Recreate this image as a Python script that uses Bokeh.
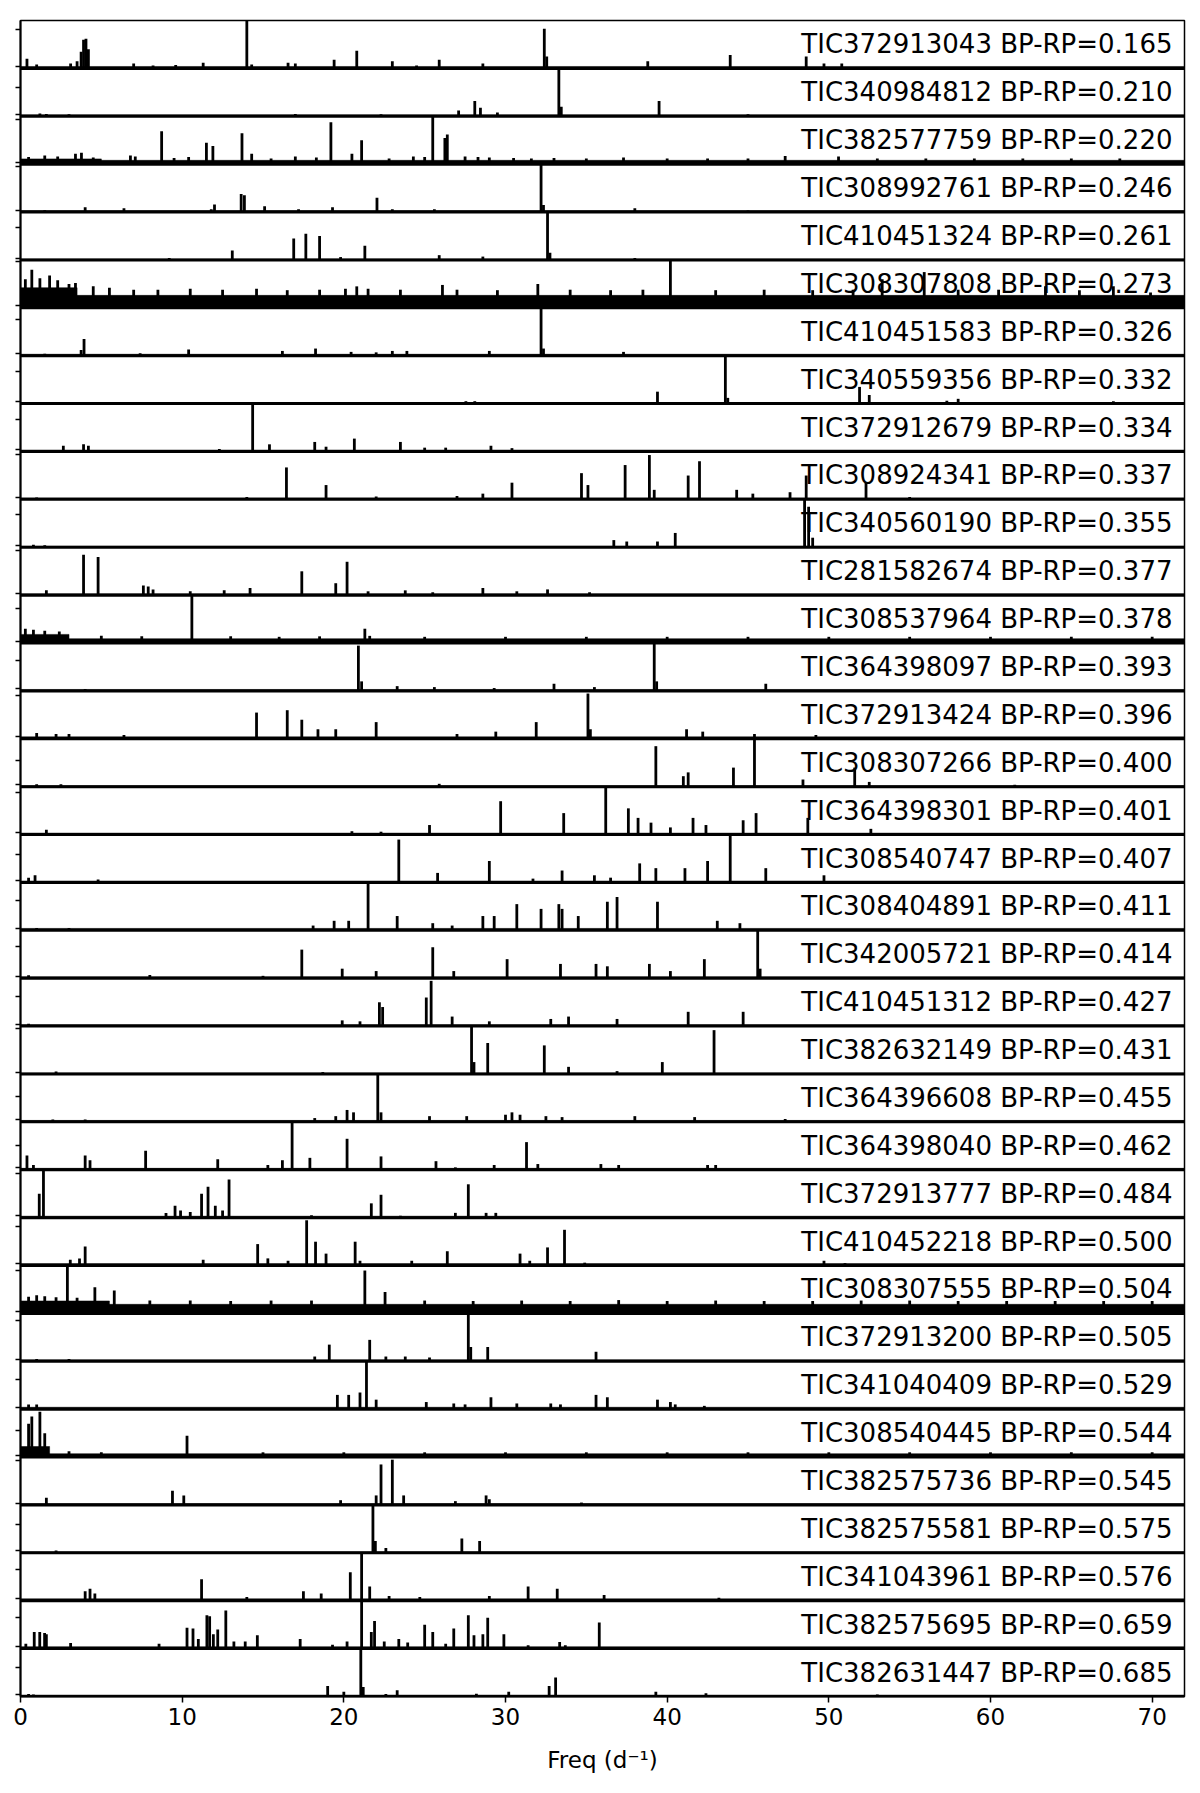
from bokeh.plotting import figure
from bokeh.models import FixedTicker, Span, Range1d, ColumnDataSource, CustomJSTickFormatter
from bokeh.core.properties import value
from bokeh.embed import file_html
from bokeh.resources import INLINE

# ---------------- data ----------------
TIC_IDS = ["372913043", "340984812", "382577759", "308992761", "410451324",
           "308307808", "410451583", "340559356", "372912679", "308924341",
           "340560190", "281582674", "308537964", "364398097", "372913424",
           "308307266", "364398301", "308540747", "308404891", "342005721",
           "410451312", "382632149", "364396608", "364398040", "372913777",
           "410452218", "308307555", "372913200", "341040409", "308540445",
           "382575736", "382575581", "341043961", "382575695", "382631447"]
BP_RP = [0.165, 0.210, 0.220, 0.246, 0.261, 0.273, 0.326, 0.332, 0.334, 0.337,
         0.355, 0.377, 0.378, 0.393, 0.396, 0.400, 0.401, 0.407, 0.411, 0.414,
         0.427, 0.431, 0.455, 0.462, 0.484, 0.500, 0.504, 0.505, 0.529, 0.544,
         0.545, 0.575, 0.576, 0.659, 0.685]

# relative noise floor of each periodogram (fraction of panel height)
NOISE_FLOOR = [0.04, 0.03, 0.08, 0.03, 0.02, 0.26, 0.03, 0.02, 0.03, 0.03,
               0.02, 0.03, 0.09, 0.03, 0.04, 0.02, 0.03, 0.03, 0.04, 0.03,
               0.03, 0.02, 0.03, 0.03, 0.03, 0.04, 0.19, 0.03, 0.04, 0.07,
               0.03, 0.02, 0.04, 0.04, 0.03]
# low-frequency excess: upper frequency and level
EXCESS_END = [0, 0, 5.0, 0, 0, 3.5, 0, 0, 0, 0, 0, 0, 3.0, 0, 0, 0, 0, 0, 0, 0,
              0, 0, 0, 0, 0, 0, 5.5, 0, 0, 1.8, 0, 0, 0, 0, 0]
EXCESS_LEVEL = [0, 0, 0.11, 0, 0, 0.42, 0, 0, 0, 0, 0, 0, 0.18, 0, 0, 0, 0, 0, 0, 0,
                0, 0, 0, 0, 0, 0, 0.26, 0, 0, 0.22, 0, 0, 0, 0, 0]
# position of the unlabelled y tick inside each panel (fraction of height)
YTICK_FRAC = [0.82, 0.60, 0.94, 0.95, 0.68, 0.97, 0.76, 0.68, 0.66, 0.94,
              0.68, 0.93, 0.72, 0.64, 0.90, 0.55, 0.88, 0.58, 0.62, 0.66,
              0.62, 0.95, 0.54, 0.50, 0.93, 0.82, 0.90, 0.85, 0.62, 0.55,
              0.93, 0.60, 0.65, 0.65, 0.60]

FREQ_TICKS = [0, 10, 20, 30, 40, 50, 60, 70]

# peaks: (frequency d^-1, relative amplitude)
pk_372913043 = [(0.4, 0.2), (1.0, 0.08), (3.1, 0.1), (3.5, 0.15), (3.75, 0.35), (3.9, 0.6), (4.05, 0.62),
                (4.2, 0.4), (7.0, 0.1), (8.2, 0.06), (9.6, 0.07), (11.3, 0.12), (14.0, 1.0), (14.3, 0.08),
                (16.55, 0.12), (17.0, 0.1), (19.4, 0.18), (20.8, 0.37), (23.0, 0.15), (24.5, 0.06),
                (25.9, 0.18), (28.6, 0.1), (32.4, 0.83), (32.55, 0.25), (38.8, 0.15), (43.9, 0.28),
                (48.6, 0.25), (49.7, 0.1), (50.8, 0.1)]
pk_340984812 = [(1.2, 0.06), (1.6, 0.05), (3.0, 0.04), (17.0, 0.05), (22.3, 0.04), (27.1, 0.12), (28.1, 0.32),
                (28.45, 0.18), (29.5, 0.08), (33.3, 1.0), (33.45, 0.2), (39.5, 0.32), (45.0, 0.04)]
pk_382577759 = [(0.5, 0.15), (1.5, 0.18), (2.3, 0.16), (3.4, 0.22), (3.77, 0.24), (4.5, 0.14), (6.8, 0.18),
                (7.1, 0.16), (8.73, 0.69), (9.5, 0.13), (10.4, 0.15), (11.5, 0.45), (11.9, 0.38), (13.7, 0.65),
                (14.3, 0.22), (15.5, 0.12), (17.0, 0.16), (18.3, 0.14), (19.2, 0.88), (20.5, 0.22), (21.1, 0.5),
                (22.8, 0.12), (24.3, 0.16), (25.0, 0.15), (25.5, 1.0), (26.25, 0.55), (26.4, 0.62), (27.5, 0.16),
                (28.3, 0.15), (29.0, 0.14), (30.5, 0.13), (31.6, 0.12), (33.0, 0.13), (35.0, 0.12), (37.3, 0.14),
                (40.0, 0.12), (42.5, 0.12), (45.0, 0.12), (47.3, 0.17), (50.6, 0.16), (53.0, 0.12), (56.0, 0.12),
                (59.0, 0.12), (62.0, 0.12), (65.0, 0.12), (68.0, 0.12)]
pk_308992761 = [(1.5, 0.04), (4.0, 0.1), (6.4, 0.08), (11.8, 0.06), (12.0, 0.16), (13.65, 0.38), (13.85, 0.35),
                (15.1, 0.12), (17.2, 0.06), (19.3, 0.1), (22.05, 0.3), (23.0, 0.06), (25.6, 0.06), (32.2, 1.0),
                (32.35, 0.15), (38.0, 0.08), (45.0, 0.03)]
pk_410451324 = [(9.2, 0.04), (13.1, 0.2), (16.9, 0.45), (17.65, 0.55), (18.5, 0.5), (19.8, 0.06), (21.3, 0.3),
                (25.9, 0.1), (28.6, 0.07), (32.6, 1.0), (32.75, 0.15), (38.0, 0.04)]
pk_308307808 = [(0.3, 0.6), (0.7, 0.8), (1.2, 0.62), (1.8, 0.68), (2.3, 0.58), (3.0, 0.5), (3.4, 0.52),
                (4.5, 0.45), (5.5, 0.42), (7.0, 0.38), (8.5, 0.38), (10.5, 0.4), (12.5, 0.38), (14.6, 0.4),
                (16.5, 0.37), (18.5, 0.38), (20.1, 0.4), (20.8, 0.45), (21.5, 0.4), (23.5, 0.38), (26.1, 0.48),
                (27.0, 0.38), (29.5, 0.37), (32.0, 0.5), (34.0, 0.38), (36.5, 0.37), (38.5, 0.38), (40.2, 1.0),
                (43.0, 0.37), (46.0, 0.38), (49.0, 0.37), (51.5, 0.38), (53.3, 0.6), (55.9, 0.75), (58.0, 0.38),
                (60.5, 0.38), (63.4, 0.45), (65.5, 0.37), (67.6, 0.45), (69.9, 0.32)]
pk_410451583 = [(1.5, 0.04), (3.75, 0.12), (3.93, 0.35), (7.4, 0.05), (10.4, 0.13), (16.2, 0.1), (18.25, 0.15),
                (20.45, 0.08), (22.0, 0.07), (23.0, 0.1), (23.9, 0.1), (29.0, 0.1), (32.2, 1.0), (32.35, 0.15),
                (37.3, 0.08)]
pk_340559356 = [(3.7, 0.03), (27.55, 0.05), (28.1, 0.05), (39.4, 0.25), (43.6, 1.0), (43.75, 0.12), (51.9, 0.35),
                (52.5, 0.18), (57.3, 0.06), (58.0, 0.1), (67.6, 0.05)]
pk_372912679 = [(2.65, 0.12), (3.9, 0.15), (4.2, 0.12), (12.3, 0.05), (14.36, 1.0), (15.4, 0.15), (18.2, 0.2),
                (18.9, 0.1), (20.65, 0.27), (23.5, 0.2), (25.0, 0.08), (26.3, 0.08), (29.1, 0.12), (30.4, 0.07)]
pk_308924341 = [(1.0, 0.04), (14.0, 0.05), (16.45, 0.67), (18.9, 0.3), (22.0, 0.06), (27.0, 0.07), (28.6, 0.12),
                (30.4, 0.35), (34.7, 0.55), (35.1, 0.3), (37.4, 0.72), (38.9, 0.93), (39.2, 0.2), (41.3, 0.5),
                (42.0, 0.8), (44.3, 0.2), (45.3, 0.12), (47.6, 0.15), (48.6, 0.5), (52.3, 0.35), (55.0, 0.05)]
pk_340560190 = [(0.8, 0.05), (1.5, 0.04), (36.7, 0.15), (37.5, 0.12), (39.4, 0.12), (40.5, 0.3), (48.5, 1.0),
                (48.75, 0.85), (49.0, 0.2)]
pk_281582674 = [(1.6, 0.1), (3.9, 0.85), (4.8, 0.8), (7.6, 0.2), (7.9, 0.18), (8.2, 0.12), (10.5, 0.08),
                (12.6, 0.1), (14.2, 0.15), (17.4, 0.5), (19.5, 0.25), (20.2, 0.7), (21.5, 0.08), (23.8, 0.1),
                (25.5, 0.06), (28.6, 0.15), (30.7, 0.08), (32.6, 0.12), (35.2, 0.06)]
pk_308537964 = [(0.3, 0.3), (0.8, 0.28), (1.5, 0.26), (2.4, 0.24), (5.0, 0.15), (7.5, 0.14), (10.6, 1.0),
                (13.0, 0.14), (16.0, 0.13), (18.5, 0.14), (21.3, 0.3), (21.6, 0.15), (25.0, 0.13), (30.0, 0.13),
                (35.0, 0.13), (40.0, 0.13), (45.0, 0.13), (50.0, 0.13), (55.0, 0.13), (60.0, 0.13), (65.0, 0.13),
                (70.0, 0.13)]
pk_364398097 = [(4.0, 0.04), (20.9, 0.95), (21.1, 0.2), (23.3, 0.1), (25.6, 0.08), (29.3, 0.06), (33.0, 0.15),
                (35.5, 0.08), (39.2, 1.0), (39.35, 0.2), (46.1, 0.15)]
pk_372913424 = [(1.0, 0.12), (2.2, 0.1), (3.0, 0.1), (6.4, 0.08), (14.6, 0.55), (16.5, 0.6), (17.4, 0.4),
                (18.4, 0.2), (19.5, 0.2), (22.0, 0.35), (27.0, 0.1), (29.4, 0.15), (31.9, 0.35), (35.1, 0.95),
                (35.25, 0.2), (41.2, 0.2), (42.2, 0.15), (45.4, 0.1), (49.2, 0.08)]
pk_308307266 = [(1.0, 0.05), (2.5, 0.05), (25.9, 0.06), (39.3, 0.85), (41.0, 0.22), (41.3, 0.3), (44.1, 0.4),
                (45.4, 1.0), (48.4, 0.15), (51.6, 0.4), (52.5, 0.1), (61.5, 0.04)]
pk_364398301 = [(1.6, 0.1), (20.5, 0.07), (22.3, 0.06), (25.3, 0.2), (29.7, 0.7), (33.6, 0.45), (36.2, 1.0),
                (37.6, 0.55), (38.2, 0.35), (39.0, 0.25), (40.2, 0.15), (41.6, 0.35), (42.4, 0.2), (44.7, 0.3),
                (45.5, 0.45), (48.7, 0.35), (52.6, 0.12)]
pk_308540747 = [(0.5, 0.1), (0.9, 0.15), (4.8, 0.06), (23.4, 0.9), (25.8, 0.2), (29.0, 0.45), (31.7, 0.08),
                (33.5, 0.25), (35.5, 0.15), (36.5, 0.1), (38.3, 0.4), (39.3, 0.3), (41.1, 0.3), (42.5, 0.45),
                (43.9, 1.0), (46.1, 0.3), (49.7, 0.15)]
pk_308404891 = [(1.0, 0.05), (3.0, 0.05), (18.1, 0.1), (19.4, 0.2), (20.3, 0.2), (21.5, 1.0), (23.3, 0.3),
                (25.5, 0.15), (26.7, 0.1), (28.6, 0.3), (29.3, 0.3), (30.7, 0.55), (32.2, 0.45), (33.3, 0.55),
                (33.5, 0.45), (34.5, 0.3), (36.3, 0.6), (36.9, 0.7), (39.4, 0.6), (43.1, 0.2), (44.5, 0.15)]
pk_342005721 = [(0.5, 0.06), (8.0, 0.07), (15.0, 0.05), (17.4, 0.6), (19.9, 0.2), (22.0, 0.15), (25.5, 0.65),
                (26.8, 0.15), (30.1, 0.4), (33.4, 0.3), (35.6, 0.3), (36.3, 0.25), (38.9, 0.3), (40.2, 0.15),
                (42.3, 0.4), (45.6, 1.0), (45.75, 0.2)]
pk_410451312 = [(0.5, 0.05), (19.9, 0.12), (21.0, 0.1), (22.2, 0.5), (22.4, 0.4), (25.1, 0.6), (25.4, 0.95),
                (26.7, 0.2), (29.0, 0.1), (32.8, 0.15), (33.9, 0.2), (36.9, 0.15), (41.3, 0.3), (44.7, 0.3)]
pk_382632149 = [(2.2, 0.05), (18.7, 0.04), (27.9, 1.0), (28.05, 0.25), (28.9, 0.65), (32.4, 0.6), (33.9, 0.15),
                (36.9, 0.06), (39.7, 0.25), (42.9, 0.92)]
pk_364396608 = [(2.0, 0.05), (4.0, 0.05), (18.2, 0.08), (19.5, 0.12), (20.2, 0.25), (20.6, 0.2), (22.1, 1.0),
                (22.3, 0.2), (25.3, 0.12), (27.6, 0.12), (30.0, 0.15), (30.4, 0.2), (30.9, 0.15), (32.5, 0.12),
                (33.5, 0.1), (38.0, 0.12), (41.7, 0.1), (47.3, 0.06)]
pk_364398040 = [(0.4, 0.3), (0.8, 0.1), (4.0, 0.3), (4.3, 0.2), (7.74, 0.4), (12.2, 0.22), (15.3, 0.1),
                (16.2, 0.2), (16.8, 1.0), (17.9, 0.25), (20.2, 0.65), (22.3, 0.28), (25.7, 0.18), (26.9, 0.05),
                (29.3, 0.1), (31.3, 0.58), (32.0, 0.12), (35.9, 0.12), (37.0, 0.1), (42.5, 0.1), (43.0, 0.1)]
pk_372913777 = [(1.16, 0.5), (1.42, 1.0), (9.0, 0.1), (9.56, 0.25), (9.9, 0.15), (10.5, 0.12), (11.2, 0.5),
                (11.6, 0.65), (12.05, 0.25), (12.5, 0.15), (12.9, 0.8), (18.0, 0.05), (21.7, 0.3), (22.3, 0.48),
                (23.5, 0.04), (26.9, 0.1), (27.7, 0.7), (28.8, 0.1), (29.4, 0.1)]
pk_410452218 = [(3.08, 0.12), (3.65, 0.15), (4.0, 0.4), (11.3, 0.12), (14.67, 0.45), (15.3, 0.15), (16.55, 0.1),
                (17.7, 0.95), (18.25, 0.5), (18.9, 0.25), (20.7, 0.5), (21.0, 0.1), (24.2, 0.1), (26.4, 0.3),
                (30.9, 0.25), (31.5, 0.1), (32.6, 0.38), (33.65, 0.75), (34.9, 0.06), (49.7, 0.1), (51.0, 0.05)]
pk_308307555 = [(0.5, 0.35), (1.0, 0.38), (1.5, 0.36), (2.2, 0.34), (2.9, 1.0), (3.5, 0.33), (4.6, 0.55),
                (5.8, 0.48), (8.0, 0.27), (10.5, 0.27), (13.0, 0.26), (15.5, 0.27), (18.0, 0.27), (21.3, 0.9),
                (22.55, 0.45), (25.0, 0.27), (28.0, 0.26), (31.0, 0.27), (34.0, 0.26), (37.0, 0.28), (40.0, 0.26),
                (43.0, 0.27), (46.0, 0.26), (49.0, 0.26), (52.0, 0.27), (55.0, 0.27), (58.0, 0.26), (61.0, 0.26),
                (64.0, 0.26), (67.0, 0.26), (70.0, 0.26)]
pk_372913200 = [(1.0, 0.05), (3.0, 0.05), (18.2, 0.1), (19.1, 0.35), (21.6, 0.45), (22.6, 0.1), (23.8, 0.1),
                (25.3, 0.08), (27.7, 1.0), (27.85, 0.3), (28.9, 0.3), (35.6, 0.2)]
pk_341040409 = [(0.5, 0.1), (1.0, 0.1), (19.6, 0.3), (20.3, 0.3), (21.0, 0.35), (21.4, 1.0), (22.0, 0.2),
                (25.1, 0.15), (26.8, 0.12), (27.5, 0.1), (29.1, 0.25), (30.7, 0.12), (32.8, 0.12), (33.4, 0.1),
                (35.6, 0.3), (36.3, 0.25), (39.4, 0.2), (40.2, 0.15), (40.5, 0.1), (42.3, 0.07)]
pk_308540445 = [(0.5, 0.7), (0.7, 0.85), (1.2, 0.95), (1.5, 0.5), (3.0, 0.12), (5.0, 0.1), (10.3, 0.45),
                (15.0, 0.1), (20.0, 0.1), (25.0, 0.1), (30.0, 0.1), (35.0, 0.1), (40.0, 0.1), (45.0, 0.1),
                (50.0, 0.1), (55.0, 0.1), (60.0, 0.1), (65.0, 0.1), (70.0, 0.1)]
pk_382575736 = [(1.6, 0.15), (9.4, 0.3), (10.1, 0.2), (19.8, 0.1), (22.0, 0.2), (22.3, 0.85), (23.0, 0.95),
                (23.7, 0.2), (26.9, 0.08), (28.8, 0.2), (29.0, 0.12), (34.7, 0.05)]
pk_382575581 = [(2.2, 0.05), (21.8, 1.0), (21.95, 0.25), (22.6, 0.1), (27.3, 0.3), (28.4, 0.25)]
pk_341043961 = [(4.0, 0.2), (4.3, 0.25), (4.6, 0.15), (11.2, 0.45), (14.0, 0.08), (17.5, 0.2), (18.6, 0.15),
                (20.4, 0.6), (21.1, 1.0), (21.6, 0.3), (22.8, 0.1), (24.7, 0.08), (29.0, 0.1), (31.4, 0.3),
                (33.2, 0.25), (36.1, 0.12), (43.2, 0.06)]
pk_382575695 = [(0.33, 0.1), (0.85, 0.35), (1.19, 0.35), (1.49, 0.33), (1.6, 0.3), (3.1, 0.12), (8.57, 0.1),
                (10.3, 0.44), (10.67, 0.42), (11.0, 0.2), (11.53, 0.7), (11.7, 0.68), (11.93, 0.3), (12.2, 0.4),
                (12.7, 0.8), (13.2, 0.15), (13.9, 0.15), (14.65, 0.28), (17.3, 0.2), (19.3, 0.08), (20.2, 0.15),
                (21.1, 1.0), (21.7, 0.35), (21.9, 0.58), (22.5, 0.15), (23.4, 0.2), (23.95, 0.13), (25.0, 0.5),
                (25.5, 0.35), (26.3, 0.1), (26.8, 0.42), (27.7, 0.7), (28.05, 0.28), (28.6, 0.3), (28.9, 0.65),
                (29.9, 0.3), (31.4, 0.07), (33.35, 0.14), (33.7, 0.07), (35.8, 0.55)]
pk_382631447 = [(0.5, 0.05), (0.8, 0.04), (19.0, 0.22), (20.0, 0.1), (21.05, 1.0), (21.2, 0.2), (22.6, 0.05),
                (23.3, 0.13), (28.2, 0.06), (30.2, 0.1), (32.7, 0.22), (33.1, 0.4), (39.3, 0.1), (42.4, 0.07),
                (53.0, 0.04)]

PEAKS = [pk_372913043, pk_340984812, pk_382577759, pk_308992761, pk_410451324,
         pk_308307808, pk_410451583, pk_340559356, pk_372912679, pk_308924341,
         pk_340560190, pk_281582674, pk_308537964, pk_364398097, pk_372913424,
         pk_308307266, pk_364398301, pk_308540747, pk_308404891, pk_342005721,
         pk_410451312, pk_382632149, pk_364396608, pk_364398040, pk_372913777,
         pk_410452218, pk_308307555, pk_372913200, pk_341040409, pk_308540445,
         pk_382575736, pk_382575581, pk_341043961, pk_382575695, pk_382631447]

# ---------------- figure ----------------
N = len(TIC_IDS)
FMAX = 72.0
FONT = "DejaVu Sans"

p = figure(width=1192, height=1785, output_backend="svg", toolbar_location=None,
           x_range=Range1d(0, FMAX), y_range=Range1d(0, N),
           min_border_left=20, min_border_right=8, min_border_top=20, min_border_bottom=89)
p.grid.visible = False
p.outline_line_color = "black"
p.outline_line_width = 1.5
p.background_fill_color = "white"
p.border_fill_color = "white"

# noise floors
fl = dict(left=[], right=[], bottom=[], top=[])
for i in range(N):
    base = N - 1 - i
    fl["left"].append(0.0); fl["right"].append(FMAX)
    fl["bottom"].append(base); fl["top"].append(base + NOISE_FLOOR[i])
    if EXCESS_END[i] > 0:
        fl["left"].append(0.0); fl["right"].append(EXCESS_END[i])
        fl["bottom"].append(base); fl["top"].append(base + EXCESS_LEVEL[i])
p.quad(source=ColumnDataSource(fl), left="left", right="right", bottom="bottom", top="top",
       fill_color="black", line_color="black", line_width=0.5)

# peaks
seg = dict(x=[], y0=[], y1=[])
for i, peaks in enumerate(PEAKS):
    base = N - 1 - i
    for f, a in peaks:
        seg["x"].append(f)
        seg["y0"].append(base)
        seg["y1"].append(base + a * 0.995)
p.segment(source=ColumnDataSource(seg), x0="x", y0="y0", x1="x", y1="y1",
          line_color="black", line_width=2.8)

# panel separators
for k in range(1, N):
    p.add_layout(Span(location=k, dimension="width", line_color="black", line_width=3))

# labels
lab = dict(x=[FMAX] * N, y=[N - 1 - i + 0.5 for i in range(N)],
           t=[f"TIC{t} BP-RP={b:.3f}" for t, b in zip(TIC_IDS, BP_RP)])
p.text(source=ColumnDataSource(lab), x="x", y="y", text="t", x_offset=-12,
       text_align="right", text_baseline="alphabetic", text_color="black",
       text_font=value(FONT), text_font_size="26px")

# axes
p.xaxis.ticker = FixedTicker(ticks=FREQ_TICKS)
p.xaxis.minor_tick_line_color = None
p.xaxis.major_tick_in = 0
p.xaxis.major_tick_out = 6
p.xaxis.major_tick_line_width = 1.5
p.xaxis.axis_line_width = 2
p.xaxis.major_label_text_font = FONT
p.xaxis.major_label_text_font_size = "23px"
p.xaxis.major_label_text_color = "black"
p.xaxis.major_label_standoff = 5
p.xaxis.axis_label = "Freq (d\u207b\u00b9)"
p.xaxis.axis_label_text_font = FONT
p.xaxis.axis_label_text_font_size = "23px"
p.xaxis.axis_label_text_font_style = "normal"
p.xaxis.axis_label_text_color = "black"
p.xaxis.axis_label_standoff = 19

yt = []
for i in range(N):
    base = N - 1 - i
    yt.append(base + 0.04)
    yt.append(base + YTICK_FRAC[i])
p.yaxis.ticker = FixedTicker(ticks=yt)
p.yaxis.formatter = CustomJSTickFormatter(code="return '';")
p.yaxis.minor_tick_line_color = None
p.yaxis.major_tick_in = 0
p.yaxis.major_tick_out = 5
p.yaxis.major_tick_line_width = 1.5
p.yaxis.axis_line_width = 2
p.yaxis.major_label_text_color = None
p.yaxis.major_label_standoff = 0

open("out.html", "w").write(file_html(p, INLINE))
